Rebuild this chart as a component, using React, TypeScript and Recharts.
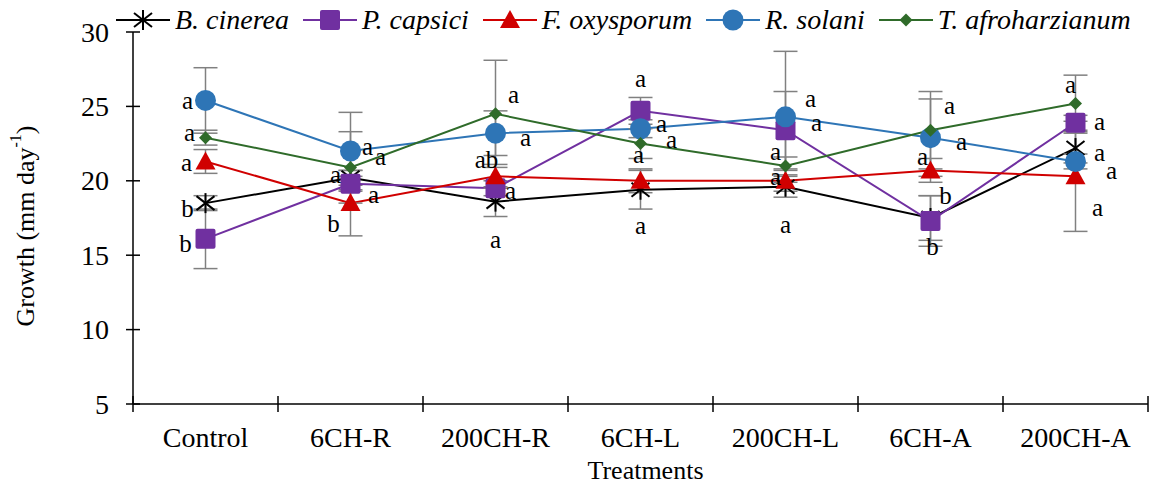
import { LineChart, Line, XAxis, YAxis, ErrorBar, LabelList, Legend } from "recharts";

const CATEGORIES = ["Control", "6CH-R", "200CH-R", "6CH-L", "200CH-L", "6CH-A", "200CH-A"];

const B_CINEREA = [18.5, 20.2, 18.6, 19.4, 19.6, 17.5, 22.2];
const P_CAPSICI = [16.1, 19.8, 19.5, 24.7, 23.4, 17.3, 23.9];
const F_OXYSPORUM = [21.3, 18.5, 20.3, 20.0, 20.0, 20.7, 20.3];
const R_SOLANI = [25.4, 22.0, 23.2, 23.5, 24.3, 22.9, 21.3];
const T_AFRO = [22.9, 20.9, 24.5, 22.5, 21.0, 23.4, 25.2];

const B_CINEREA_ERR = [0.5, 0.5, 1.0, 1.3, 0.7, 1.5, 1.0];
const P_CAPSICI_ERR = [2.0, 0.5, 0.5, 0.9, 2.6, 1.7, 0.5];
const F_OXYSPORUM_ERR = [0.8, 2.2, 0.8, 0.8, 0.7, 0.8, 3.7];
const R_SOLANI_ERR = [2.2, 2.6, 1.5, 0.6, 4.4, 2.6, 0.5];
const T_AFRO_ERR = [0.5, 2.4, 3.6, 1.0, 0.6, 2.6, 1.9];

const B_CINEREA_SIG = ["b", "a", "a", "a", "a", "b", "a"];
const P_CAPSICI_SIG = ["b", "a", "a", "a", "a", "b", "a"];
const F_OXYSPORUM_SIG = ["a", "b", "ab", "a", "a", "a", "a"];
const R_SOLANI_SIG = ["a", "a", "a", "a", "a", "a", "a"];
const T_AFRO_SIG = ["a", "a", "a", "a", "a", "a", "a"];

const Y_TICKS = [5, 10, 15, 20, 25, 30];
const X_TICKS = Array.from({ length: CATEGORIES.length * 2 + 1 }, (_, i) => i / 2);

const data = CATEGORIES.map((name, i) => ({
  name,
  x: i + 0.5,
  bc: B_CINEREA[i], bcErr: B_CINEREA_ERR[i], bcSig: B_CINEREA_SIG[i],
  pc: P_CAPSICI[i], pcErr: P_CAPSICI_ERR[i], pcSig: P_CAPSICI_SIG[i],
  fo: F_OXYSPORUM[i], foErr: F_OXYSPORUM_ERR[i], foSig: F_OXYSPORUM_SIG[i],
  rs: R_SOLANI[i], rsErr: R_SOLANI_ERR[i], rsSig: R_SOLANI_SIG[i],
  ta: T_AFRO[i], taErr: T_AFRO_ERR[i], taSig: T_AFRO_SIG[i],
}));

const FONT = "'Liberation Serif', 'Times New Roman', serif";
const ERR_COLOR = "#808080";

// letter placement next to each point (dx, dy in px)
const SIG_OFFSETS: Record<string, number[][]> = {
  bc: [[-18, 5], [-15, -3], [0, 38], [0, 36], [0, 38], [15, -23], [24, 4]],
  pc: [[-20, 5], [23, 11], [15, 2], [0, -32], [31, -8], [2, 26], [24, -1]],
  fo: [[-19, 1], [-17, 20], [-9, -17], [-2, -26], [-10, -4], [-8, -14], [22, 31]],
  rs: [[-18, 0], [17, -5], [30, 4], [21, -5], [25, -18], [31, 4], [36, 9]],
  ta: [[-16, -5], [30, -11], [18, -19], [31, -4], [-10, -14], [19, -25], [-5, -19]],
};

const Asterisk = ({ cx, cy, color }: any) => (
  <g stroke={color} strokeWidth={2}>
    <line x1={cx} y1={cy - 10} x2={cx} y2={cy + 10} />
    <line x1={cx - 9} y1={cy - 7} x2={cx + 9} y2={cy + 7} />
    <line x1={cx - 9} y1={cy + 7} x2={cx + 9} y2={cy - 7} />
  </g>
);
const Square = ({ cx, cy, color }: any) => (
  <rect x={cx - 10} y={cy - 10} width={20} height={20} rx={2} fill={color} />
);
const Triangle = ({ cx, cy, color }: any) => (
  <polygon points={`${cx},${cy - 10} ${cx + 10},${cy + 8} ${cx - 10},${cy + 8}`} fill={color} />
);
const Circle = ({ cx, cy, color }: any) => <circle cx={cx} cy={cy} r={10.5} fill={color} />;
const Diamond = ({ cx, cy, color }: any) => (
  <polygon points={`${cx},${cy - 6.5} ${cx + 6.5},${cy} ${cx},${cy + 6.5} ${cx - 6.5},${cy}`} fill={color} />
);

const SERIES = [
  { key: "bc", name: "B. cinerea", color: "#000000", Marker: Asterisk },
  { key: "pc", name: "P. capsici", color: "#7030a0", Marker: Square },
  { key: "fo", name: "F. oxysporum", color: "#d00000", Marker: Triangle },
  { key: "rs", name: "R. solani", color: "#2e75b6", Marker: Circle },
  { key: "ta", name: "T. afroharzianum", color: "#2f6b2a", Marker: Diamond },
];

const XTick = ({ x, y, payload }: any) => {
  const v = payload.value;
  if (Number.isInteger(v)) {
    return <line x1={x} x2={x} y1={y - 8} y2={y + 8} stroke="#000" strokeWidth={1.5} />;
  }
  return (
    <text x={x} y={y + 33} textAnchor="middle" dominantBaseline="central" fontSize={28} fontFamily={FONT} fill="#000">
      {CATEGORIES[Math.floor(v)]}
    </text>
  );
};

const YTick = ({ x, y, payload }: any) => (
  <g>
    <line x1={x - 7} x2={x + 7} y1={y} y2={y} stroke="#000" strokeWidth={1.5} />
    <text x={x - 24} y={y} textAnchor="end" dominantBaseline="central" fontSize={28} fontFamily={FONT} fill="#000">
      {payload.value}
    </text>
  </g>
);

const YLabel = () => (
  <text transform="translate(25,226) rotate(-90)" textAnchor="middle" dominantBaseline="central" fontSize={26} fontFamily={FONT} fill="#000">
    Growth (mm day<tspan dy={-10} fontSize={16}>-1</tspan><tspan dy={10}>)</tspan>
  </text>
);

const XLabel = ({ viewBox }: any) => (
  <text x={viewBox.x + viewBox.width / 2 + 5} y={470} textAnchor="middle" dominantBaseline="central" fontSize={26} fontFamily={FONT} fill="#000">
    Treatments
  </text>
);

const sigLabel = (key: string) => (props: any) => {
  const { x, y, value, index } = props;
  const [dx, dy] = SIG_OFFSETS[key][index];
  return (
    <text x={x + dx} y={y + dy} textAnchor="middle" dominantBaseline="central" fontSize={25} fontFamily={FONT} fill="#000">
      {value}
    </text>
  );
};

const LegendContent = () => (
  <div style={{ display: "flex", alignItems: "center", fontFamily: FONT, fontStyle: "italic", fontSize: 28, whiteSpace: "nowrap" }}>
    {SERIES.map((s) => (
      <div key={s.key} style={{ display: "flex", alignItems: "center", marginRight: 14 }}>
        <svg width={54} height={24} style={{ marginRight: 5 }}>
          <line x1={0} x2={54} y1={12} y2={12} stroke={s.color} strokeWidth={2} />
          <s.Marker cx={27} cy={12} color={s.color} />
        </svg>
        <span>{s.name}</span>
      </div>
    ))}
  </div>
);

export default function App() {
  return (
    <div style={{ width: 1154, height: 486, background: "#fff" }}>
      <style>{`body{margin:0;background:#fff}`}</style>
      <LineChart width={1154} height={486} data={data} margin={{ top: 32, right: 6, left: 0, bottom: 0 }}>
        <XAxis
          dataKey="x"
          type="number"
          domain={[0, 7]}
          ticks={X_TICKS}
          interval={0}
          height={82}
          tickSize={0}
          tickMargin={0}
          tickLine={false}
          tick={<XTick />}
          axisLine={{ stroke: "#000", strokeWidth: 1.5 }}
          label={<XLabel />}
        />
        <YAxis
          type="number"
          domain={[5, 30]}
          ticks={Y_TICKS}
          interval={0}
          width={133}
          tickSize={0}
          tickMargin={0}
          tickLine={false}
          tick={<YTick />}
          axisLine={{ stroke: "#000", strokeWidth: 1.5 }}
          label={<YLabel />}
        />
        <Legend layout="horizontal" verticalAlign="middle" align="center" wrapperStyle={{ top: 4, left: 116, width: 1038 }} content={<LegendContent />} />
        {SERIES.map((s) => (
          <Line
            key={s.key}
            dataKey={s.key}
            name={s.name}
            stroke={s.color}
            strokeWidth={2}
            isAnimationActive={false}
            dot={(p: any) => <s.Marker key={`${s.key}-${p.index}`} cx={p.cx} cy={p.cy} color={s.color} />}
            activeDot={false}
          >
            <ErrorBar dataKey={`${s.key}Err`} direction="y" width={12} stroke={ERR_COLOR} strokeWidth={1.5} />
            <LabelList dataKey={`${s.key}Sig`} content={sigLabel(s.key)} />
          </Line>
        ))}
      </LineChart>
    </div>
  );
}
